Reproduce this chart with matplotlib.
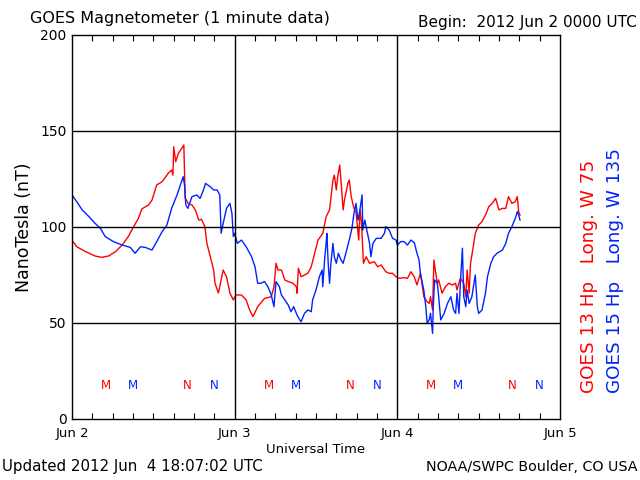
import numpy as np
import matplotlib
matplotlib.use("Agg")
import matplotlib.pyplot as plt

# ── data (hours since 2012 Jun 2 00:00 UTC, nT) ───────────────────────────────
g13_hours = [
    0.0, 0.7, 2.0, 3.4, 4.4, 5.4, 6.4, 7.4, 8.3, 9.1, 9.8, 10.3, 11.3, 11.8,
    12.5, 13.3, 14.2, 14.7, 14.9, 15.0, 15.3, 15.7, 16.2, 16.5, 16.7, 17.2,
    17.7, 18.2, 18.7, 19.1, 19.6, 19.9, 20.4, 20.9, 21.1, 21.6, 21.8, 22.3,
    22.8, 23.3, 23.8, 24.2, 25.0, 25.7, 26.2, 26.7, 27.4, 28.4, 29.4, 29.8,
    30.1, 30.4, 30.9, 31.4, 31.9, 32.6, 33.1, 33.2, 33.4, 33.8, 34.3, 34.8,
    35.3, 35.8, 36.3, 37.0, 37.5, 38.0, 38.5, 38.7, 39.0, 39.2, 39.5, 39.7,
    40.0, 40.2, 40.7, 40.9, 41.2, 41.6, 41.9, 42.3, 42.5, 42.7, 43.0, 43.4,
    43.9, 44.6, 45.1, 45.6, 46.3, 46.8, 47.3, 47.8, 48.3, 49.0, 49.5, 50.0,
    50.5, 50.9, 51.4, 51.7, 51.9, 52.4, 52.7, 52.9, 53.2, 53.4, 53.6, 53.9,
    54.1, 54.6, 55.1, 55.6, 56.1, 56.6, 56.8, 57.3, 57.8, 58.1, 58.3, 58.6,
    58.8, 59.2, 59.5, 60.0, 60.5, 61.0, 61.5, 62.0, 62.5, 63.0, 63.5, 64.0,
    64.4, 64.9, 65.4, 65.7, 65.9, 66.1,
]
g13_nt = [
    93.2, 89.7, 87.2, 84.9, 84.2, 84.9, 87.1, 90.6, 95.0, 100.2, 104.5, 109.4,
    111.5, 114.0, 121.9, 123.6, 128.0, 129.7, 127.0, 141.8, 134.0, 138.4,
    141.0, 142.7, 115.0, 112.0, 111.5, 108.9, 103.6, 104.0, 100.2, 91.5, 84.5,
    77.6, 70.7, 65.6, 69.0, 77.6, 74.1, 65.6, 62.0, 64.6, 64.6, 62.0, 56.8,
    53.3, 58.5, 62.8, 63.7, 68.9, 81.1, 77.6, 77.6, 72.4, 71.6, 70.7, 68.9,
    65.5, 78.5, 74.1, 75.0, 75.9, 79.3, 86.3, 93.2, 96.7, 105.4, 108.9, 124.5,
    127.0, 119.3, 126.2, 132.3, 123.6, 108.9, 114.0, 122.7, 124.5, 115.8,
    109.7, 108.0, 93.2, 108.9, 102.8, 81.1, 84.5, 81.1, 81.9, 79.3, 80.2,
    76.7, 75.9, 75.9, 74.1, 73.3, 73.6, 73.3, 76.7, 74.1, 69.8, 75.9, 69.0,
    63.7, 61.1, 60.2, 63.7, 56.8, 82.8, 77.6, 70.7, 72.4, 65.5, 69.0, 70.7,
    69.8, 70.7, 67.2, 73.3, 70.7, 63.7, 77.6, 65.5, 81.1, 89.7, 96.7, 101.0,
    102.8, 106.2, 110.6, 112.3, 114.9, 108.9, 109.7, 109.7, 115.8, 112.3,
    113.2, 115.8, 108.0, 106.2,
]

g15_hours = [
    0.0, 0.7, 1.5, 2.5, 3.4, 4.2, 4.9, 6.1, 7.4, 8.6, 9.3, 10.1, 10.8, 11.8,
    12.5, 13.3, 14.0, 14.7, 15.5, 16.0, 16.4, 16.6, 16.8, 17.1, 17.7, 18.4,
    18.9, 19.4, 19.7, 20.4, 20.9, 21.4, 21.8, 22.0, 22.3, 22.8, 23.3, 23.6,
    23.8, 24.0, 24.4, 25.0, 25.7, 26.5, 27.0, 27.4, 27.9, 28.4, 28.9, 29.4,
    29.8, 30.1, 30.6, 30.9, 31.4, 31.9, 32.3, 32.7, 33.2, 33.6, 33.8, 34.3,
    34.8, 35.3, 35.5, 36.0, 36.5, 36.9, 37.0, 37.3, 37.5, 37.6, 37.8, 38.0,
    38.2, 38.5, 38.7, 39.0, 39.3, 39.7, 40.0, 40.4, 40.9, 41.3, 41.6, 41.9,
    42.2, 42.4, 42.8, 42.9, 43.2, 43.5, 43.9, 44.1, 44.4, 44.9, 45.6, 46.1,
    46.3, 46.8, 47.3, 47.8, 48.0, 48.5, 49.0, 49.5, 50.0, 50.5, 50.9, 51.2,
    51.4, 51.9, 52.2, 52.4, 52.7, 52.9, 53.2, 53.3, 53.5, 53.9, 54.1, 54.4,
    54.9, 55.4, 55.9, 56.3, 56.6, 56.8, 57.1, 57.3, 57.6, 57.8, 58.1, 58.3,
    58.6, 59.0, 59.5, 59.8, 60.0, 60.5, 61.0, 61.3, 61.8, 62.2, 62.7, 63.5,
    64.0, 64.4, 64.9, 65.4, 65.7, 65.9, 66.1,
]
g15_nt = [
    116.7, 113.2, 108.9, 105.4, 101.9, 99.3, 95.0, 92.4, 90.6, 89.4, 86.3,
    89.7, 89.4, 88.0, 92.4, 97.6, 101.0, 109.7, 116.7, 121.9, 126.2, 121.9,
    111.5, 109.7, 115.8, 116.7, 114.9, 119.3, 122.7, 121.0, 119.3, 119.3,
    116.7, 96.8, 101.9, 109.7, 112.3, 107.0, 95.0, 96.7, 91.5, 93.2, 89.7,
    84.5, 79.3, 70.7, 70.7, 71.6, 68.9, 64.6, 58.5, 71.6, 68.9, 64.6, 62.0,
    59.4, 55.9, 58.5, 54.2, 51.6, 50.7, 55.0, 56.8, 55.9, 62.0, 67.2, 74.1,
    77.6, 68.9, 84.5, 91.5, 96.7, 81.1, 70.7, 81.1, 91.5, 84.5, 81.1, 86.3,
    82.8, 81.1, 86.3, 93.2, 99.3, 107.1, 112.3, 103.6, 107.1, 116.7, 98.4,
    103.6, 98.4, 91.5, 84.5, 91.5, 94.1, 94.1, 96.7, 100.2, 98.4, 94.1, 93.2,
    90.6, 92.4, 92.4, 90.6, 93.2, 91.9, 86.3, 82.8, 75.9, 67.2, 58.5, 49.8,
    51.6, 55.0, 44.6, 58.5, 72.4, 70.7, 63.7, 51.6, 55.0, 60.2, 63.7, 56.8,
    55.0, 65.5, 55.0, 70.7, 88.9, 63.7, 58.5, 67.2, 60.2, 63.7, 75.0, 58.5,
    55.0, 56.8, 65.5, 74.1, 81.1, 84.5, 86.3, 88.0, 91.5, 96.7, 100.2, 104.5,
    108.0, 106.2, 103.6,
]

# local midnight (M) / noon (N) markers, hours
g13_m = [5, 29, 53]
g13_n = [17, 41, 65]
g15_m = [9, 33, 57]
g15_n = [21, 45, 69]
marker_level = 17.5

day_labels = ["Jun 2", "Jun 3", "Jun 4", "Jun 5"]

RED = "#ff0000"
BLUE = "#0022ff"

# ── plot ───────────────────────────────────────────────────────────────────────
fig = plt.figure(figsize=(6.4, 4.8), dpi=100)
ax = fig.add_axes([72 / 640, 61 / 480, 488 / 640, 384 / 480])

ax.plot(g13_hours, g13_nt, color=RED, linewidth=1.0)
ax.plot(g15_hours, g15_nt, color=BLUE, linewidth=1.0)

for h in g13_m:
    ax.text(h, marker_level, "M", color=RED, fontsize=8.5, ha="center", va="center")
for h in g15_m:
    ax.text(h, marker_level, "M", color=BLUE, fontsize=8.5, ha="center", va="center")
for h in g13_n:
    ax.text(h, marker_level, "N", color=RED, fontsize=8.5, ha="center", va="center")
for h in g15_n:
    ax.text(h, marker_level, "N", color=BLUE, fontsize=8.5, ha="center", va="center")

ax.set_xlim(0, 72)
ax.set_ylim(0, 200)
ax.set_xticks([0, 24, 48, 72])
ax.set_xticklabels(day_labels, fontsize=9.5)
ax.set_xticks(np.arange(0, 73, 3), minor=True)
ax.set_yticks([0, 50, 100, 150, 200])
ax.set_yticklabels(["0", "50", "100", "150", "200"], fontsize=10)
ax.tick_params(axis="x", which="major", length=0, pad=6)
ax.tick_params(axis="x", which="minor", direction="in", length=4, top=True,
               width=0.8)
ax.tick_params(axis="y", length=0, pad=4)

for d in [24, 48]:
    ax.axvline(d, color="black", linewidth=1.0)
for v in [50, 100, 150]:
    ax.axhline(v, color="black", linewidth=1.0)
for s in ax.spines.values():
    s.set_linewidth(1.0)

ax.set_xlabel("Universal Time", fontsize=9.5, labelpad=2)
ax.set_ylabel("NanoTesla (nT)", fontsize=12.5, labelpad=5)

fig.text(30 / 640, 1 - 18 / 480, "GOES Magnetometer (1 minute data)",
         fontsize=11.5, va="center", ha="left")
fig.text(637 / 640, 1 - 22 / 480, "Begin:  2012 Jun 2 0000 UTC",
         fontsize=11, va="center", ha="right")
fig.text(2 / 640, 1 - 467 / 480, "Updated 2012 Jun  4 18:07:02 UTC",
         fontsize=10.8, va="center", ha="left")
fig.text(637 / 640, 1 - 467 / 480, "NOAA/SWPC Boulder, CO USA",
         fontsize=10.3, va="center", ha="right")

fig.text(589 / 640, 1 - 393 / 480, "GOES 13 Hp   Long. W 75", color=RED,
         fontsize=13.2, rotation=90, ha="center", va="bottom")
fig.text(615 / 640, 1 - 393 / 480, "GOES 15 Hp   Long. W 135", color=BLUE,
         fontsize=13.2, rotation=90, ha="center", va="bottom")

fig.savefig("out.png", dpi=100)
